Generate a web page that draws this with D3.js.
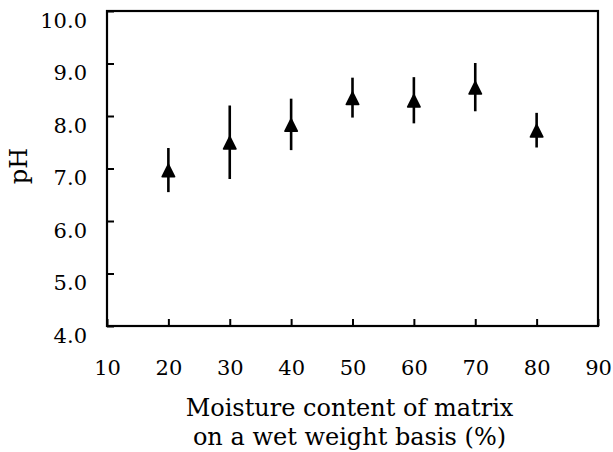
<!DOCTYPE html>
<meta charset="utf-8">
<style>
    body { margin: 0; background: #fff; }
    text { font-family: "DejaVu Serif", serif; font-size: 21px; fill: #000; }
    .title { font-size: 24px; }
</style>
<svg width="613" height="452"></svg>
<script src="https://d3js.org/d3.v7.min.js"></script>
<script>
    // moisture content (%) and measured pH, with error half-widths
    var moisture = [20, 30, 40, 50, 60, 70, 80];
    var ph = [6.97, 7.50, 7.84, 8.35, 8.30, 8.55, 7.73];
    var phErr = [0.42, 0.70, 0.49, 0.38, 0.44, 0.46, 0.33];
    var xTicks = [10, 20, 30, 40, 50, 60, 70, 80, 90];
    var yTicks = [4, 5, 6, 7, 8, 9, 10];

    var svg = d3.select("svg"),
        margin = {top: 11, right: 15, bottom: 126, left: 107},
        width = +svg.attr("width") - margin.left - margin.right,
        height = +svg.attr("height") - margin.top - margin.bottom,
        g = svg.append("g").attr("transform", "translate(" + margin.left + "," + margin.top + ")");

    var x = d3.scaleLinear().domain([10, 90]).range([0, width]);
    var y = d3.scaleLinear().domain([4, 10]).range([height, 0]);

    // tick marks point inward, labels placed by hand below
    var xAxis = g.append("g")
        .attr("transform", "translate(0," + height + ")")
        .call(d3.axisBottom(x).tickValues(xTicks).tickSizeInner(-7).tickSizeOuter(0).tickFormat(d3.format("d")));
    xAxis.select(".domain").remove();
    xAxis.selectAll("line").attr("stroke", "#000").attr("stroke-width", 2);
    xAxis.selectAll("text")
        .attr("y", 49).attr("dy", null)
        .style("font-family", "DejaVu Serif").style("font-size", "21px");

    var yAxis = g.append("g")
        .call(d3.axisLeft(y).tickValues(yTicks).tickSizeInner(-7).tickSizeOuter(0).tickFormat(d3.format(".1f")));
    yAxis.select(".domain").remove();
    yAxis.selectAll("line").attr("stroke", "#000").attr("stroke-width", 2);
    yAxis.selectAll("text")
        .attr("x", -20).attr("dy", "0.78em")
        .style("font-family", "DejaVu Serif").style("font-size", "21px");

    g.append("rect")
        .attr("width", width)
        .attr("height", height)
        .attr("fill", "none")
        .attr("stroke", "#000")
        .attr("stroke-width", 2.2);

    var pts = g.selectAll(".pt")
        .data(moisture)
        .enter().append("g")
        .attr("class", "pt");

    pts.append("line")
        .attr("x1", function(d) { return x(d); })
        .attr("x2", function(d) { return x(d); })
        .attr("y1", function(d, i) { return y(ph[i] + phErr[i]); })
        .attr("y2", function(d, i) { return y(ph[i] - phErr[i]); })
        .attr("stroke", "#000")
        .attr("stroke-width", 2.6);

    pts.append("path")
        .attr("transform", function(d, i) { return "translate(" + x(d) + "," + y(ph[i]) + ")"; })
        .attr("d", "M0,-7.5L7,6.5Q7.2,7.5 6,7.5L-6,7.5Q-7.2,7.5 -7,6.5Z")
        .attr("fill", "#000");

    svg.append("text")
        .attr("class", "title")
        .attr("text-anchor", "middle")
        .attr("x", margin.left + width / 2 - 3)
        .attr("y", 416)
        .text("Moisture content of matrix");
    svg.append("text")
        .attr("class", "title")
        .attr("text-anchor", "middle")
        .attr("x", margin.left + width / 2 - 3)
        .attr("y", 445)
        .text("on a wet weight basis (%)");

    svg.append("text")
        .attr("class", "title")
        .attr("text-anchor", "middle")
        .attr("transform", "translate(27,166) rotate(-90)")
        .text("pH");
</script>
